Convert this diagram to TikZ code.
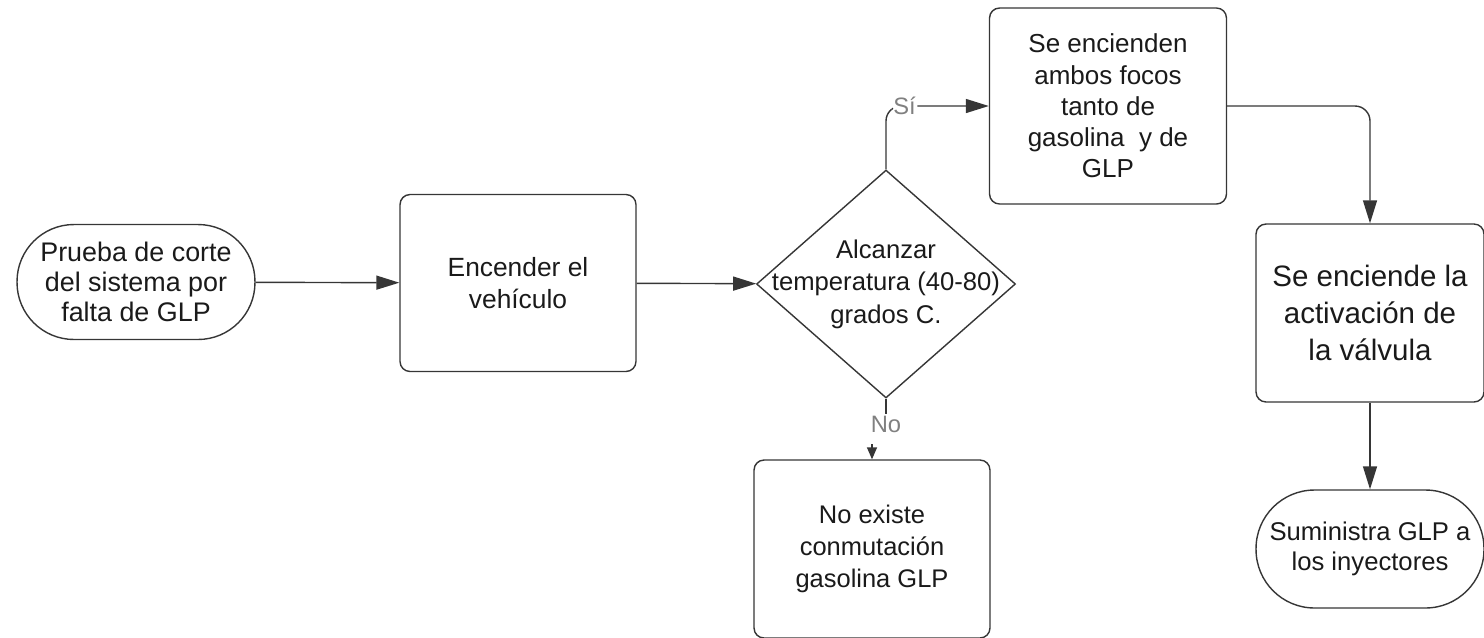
\documentclass[tikz,border=0pt]{standalone}
\usepackage{fontspec}
\setmainfont{Liberation Sans}
\usepackage{xcolor}
\usepackage{tikz}
\usetikzlibrary{positioning,arrows.meta,shapes.geometric,calc}

\definecolor{ln}{HTML}{363636}
\definecolor{lblc}{HTML}{808080}
\definecolor{txt}{HTML}{1A1A1A}

\begin{document}
\begin{tikzpicture}[
  x=0.02cm, y=-0.02cm,
  font=\fontsize{14.8}{17.8}\selectfont, text=txt,
  p/.style={draw=ln, line width=0.8pt, rounded corners=0.2cm, align=center, inner sep=2pt, minimum width=4.72cm},
  term/.style={draw=ln, line width=0.8pt, rounded corners=1.14cm, align=center, inner sep=2pt, minimum width=4.76cm, minimum height=2.3cm},
  dec/.style={draw=ln, line width=0.8pt, diamond, aspect=1.136, inner sep=0pt, minimum width=5.18cm, minimum height=4.56cm},
  arr/.style={draw=ln, line width=0.8pt, -{Triangle[length=0.46cm, width=0.28cm]}},
  lbl/.style={text=lblc, fill=white, inner sep=1pt, font=\fontsize{13.5}{16}\selectfont}]
\useasboundingbox (0,0) rectangle (1484,637);
\node[term, font=\fontsize{15.3}{17}\selectfont] (start) at (136,282) {Prueba de corte\\del sistema por\\falta de GLP};
\node[p, minimum height=3.54cm, font=\fontsize{15}{18}\selectfont] (enc) at (518,283) {Encender el\\veh\'iculo};
\node[dec] (dia) at (886,284) {};
\node[align=center, font=\fontsize{14.6}{18.5}\selectfont] (diatxt) at (dia.center) {Alcanzar\\temperatura (40-80)\\grados C.};
\node[p, minimum width=4.74cm, minimum height=3.92cm] (yes) at (1108,106) {Se encienden\\ambos focos\\tanto de\\gasolina\ \ y de\\GLP};
\node[p, minimum width=4.56cm, minimum height=3.56cm, font=\fontsize{16.8}{21}\selectfont] (valve) at (1370,313) {Se enciende la\\activaci\'on de\\la v\'alvula};
\node[term, minimum width=4.56cm, minimum height=2.36cm, rounded corners=1.17cm, font=\fontsize{14.6}{17}\selectfont] (fin) at (1370,549) {Suministra GLP a\\los inyectores};
\node[p, minimum height=3.56cm, font=\fontsize{14.5}{18}\selectfont] (no) at (872,549) {No existe\\conmutaci\'on\\gasolina GLP};
\node[lbl] (nol) at (886,424) {No};
\draw[arr] (start) -- (enc);
\draw[arr] (enc) -- (dia);
\draw[arr, rounded corners=0.3cm] (dia.north) |- node[lbl, pos=0.59]{S\'i} (yes.west);
\draw[draw=ln, line width=0.8pt] (dia.south) -- (nol);
\draw[draw=ln, line width=0.8pt, shorten <=0.2cm, -{Triangle[length=0.24cm, width=0.2cm]}] (nol.south -| no.north) -- (no.north);
\draw[arr, rounded corners=0.3cm] (yes.east) -| (valve.north);
\draw[arr] (valve) -- (fin);
\end{tikzpicture}
\end{document}
